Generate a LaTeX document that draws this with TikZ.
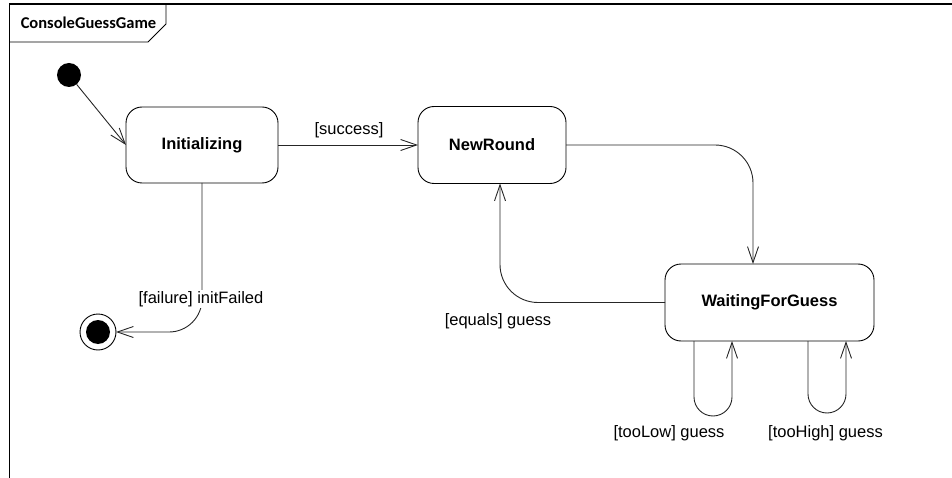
\documentclass[tikz,border=0pt]{standalone}
\usepackage{fontspec}
\setmainfont{Liberation Sans}
\newfontfamily\titlefont{Carlito}
\usetikzlibrary{arrows.meta}
\begin{document}
\begin{tikzpicture}[x=1pt,y=-1pt,
  every node/.style={inner sep=0pt,outer sep=0pt},
  statebox/.style={draw=black,line width=0.9pt,rounded corners=16pt,fill=white,
    font=\fontsize{16.5}{19}\selectfont\bfseries},
  lbl/.style={font=\fontsize{16.5}{19}\selectfont,fill=white,inner sep=1pt},
  conn/.style={draw=black!85,line width=0.9pt},
  arr/.style={conn,-{Straight Barb[length=16pt,width=11pt,line width=0.9pt]}},
  frameline/.style={draw=black,line width=1.4pt}]
\useasboundingbox (0,0) rectangle (952,478);
% frame
\draw[frameline] (9.5,478) -- (9.5,4) -- (952,4);
\draw[line width=0.9pt] (9.5,42) -- (148,42) -- (166,24) -- (166,4);
\node (title) at (88.5,23) {\titlefont\bfseries\fontsize{16.5}{19}\selectfont ConsoleGuessGame};
% states
\node[circle,fill=black,minimum size=24pt] (init) at (69,75) {};
\node[circle,draw=black,line width=0.9pt,minimum size=36pt] (fin) at (98,332) {};
\node[circle,fill=black,minimum size=24pt] (finin) at (98,332) {};
\node[statebox,minimum width=152pt,minimum height=76pt] (ini) at (202,145) {Initializing};
\node[statebox,minimum width=148pt,minimum height=77pt] (nr) at (492,145) {NewRound};
\node[statebox,minimum width=209pt,minimum height=77pt] (wfg) at (769.5,302.5) {WaitingForGuess};
% transitions
\draw[arr] (init) -- (ini.west);
\draw[arr] (ini.east) -- (nr.west);
\node[lbl] (lsucc) at (349,130) {[success]};
\draw[arr,rounded corners=38pt] (nr.east) -| ([xshift=-16.5pt]wfg.north);
\draw[arr,rounded corners=38pt] (wfg.west) -| ([xshift=8pt]nr.south);
\node[lbl] (leq) at (498,321) {[equals] guess};
\draw[arr,rounded corners=33pt] (ini.south) |- (fin.east);
\node[lbl] (lfail) at (201,299) {[failure] initFailed};
\draw[arr,rounded corners=19pt] ([xshift=-75.5pt]wfg.south) -- ++(0,75) -- ++(38,0) -- ([xshift=-37.5pt]wfg.south);
\node[lbl] (llow) at (669,433) {[tooLow] guess};
\draw[arr,rounded corners=19pt] ([xshift=38.5pt]wfg.south) -- ++(0,72) -- ++(38,0) -- ([xshift=76.5pt]wfg.south);
\node[lbl] (lhigh) at (825.5,433) {[tooHigh] guess};
\end{tikzpicture}
\end{document}
